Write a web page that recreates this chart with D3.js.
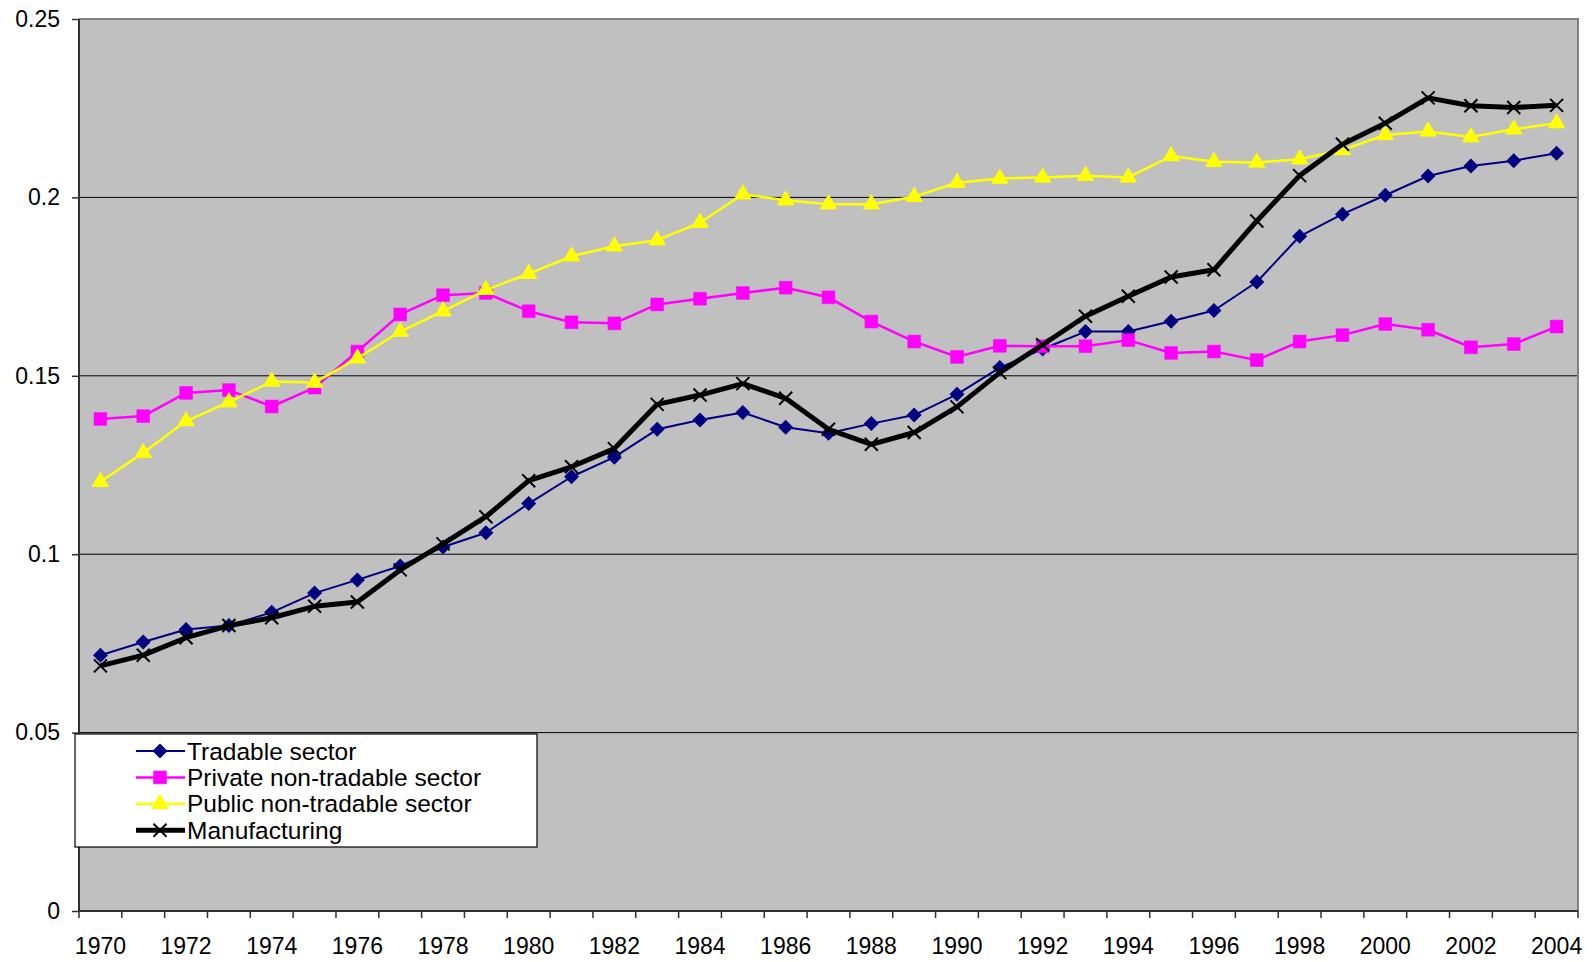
<!DOCTYPE html>
<html>
<head>
<meta charset="utf-8">
<script src="https://cdn.jsdelivr.net/npm/d3@7"></script>
<style>
  body { margin: 0; background: #fff; }
  text { font-family: "Liberation Sans", Arial, sans-serif; }
</style>
</head>
<body>
<div id="chart"></div>
<script>
// years on the category axis
var years = d3.range(1970, 2005).map(String);

// series values
var tradable = [0.0717, 0.0754, 0.0789, 0.0800, 0.0837, 0.0891, 0.0928, 0.0967, 0.1020, 0.1060,
  0.1142, 0.1217, 0.1272, 0.1350, 0.1376, 0.1397, 0.1356, 0.1339, 0.1366, 0.1390,
  0.1448, 0.1523, 0.1575, 0.1624, 0.1624, 0.1653, 0.1683, 0.1763, 0.1891, 0.1953,
  0.2006, 0.2060, 0.2088, 0.2103, 0.2124];
var privateNT = [0.1379, 0.1387, 0.1452, 0.1460, 0.1414, 0.1467, 0.1568, 0.1672, 0.1726, 0.1732,
  0.1681, 0.1650, 0.1647, 0.1700, 0.1716, 0.1732, 0.1747, 0.1720, 0.1652, 0.1596,
  0.1553, 0.1584, 0.1583, 0.1583, 0.1600, 0.1564, 0.1568, 0.1544, 0.1596, 0.1614,
  0.1645, 0.1629, 0.1580, 0.1589, 0.1638];
var publicNT = [0.1203, 0.1284, 0.1373, 0.1426, 0.1484, 0.1481, 0.1549, 0.1624, 0.1681, 0.1741,
  0.1786, 0.1835, 0.1863, 0.1880, 0.1929, 0.2009, 0.1992, 0.1981, 0.1981, 0.2002,
  0.2041, 0.2053, 0.2056, 0.2061, 0.2056, 0.2116, 0.2100, 0.2098, 0.2107, 0.2133,
  0.2175, 0.2185, 0.2169, 0.2191, 0.2208];
var manufacturing = [0.0687, 0.0717, 0.0766, 0.0800, 0.0822, 0.0854, 0.0866, 0.0956, 0.1029, 0.1105,
  0.1206, 0.1245, 0.1296, 0.1420, 0.1446, 0.1478, 0.1437, 0.1350, 0.1308, 0.1341,
  0.1413, 0.1509, 0.1587, 0.1667, 0.1723, 0.1777, 0.1797, 0.1934, 0.2061, 0.2149,
  0.2208, 0.2279, 0.2257, 0.2252, 0.2258];

var yTicks = [0, 0.05, 0.1, 0.15, 0.2, 0.25];
var seriesNames = ["Tradable sector", "Private non-tradable sector", "Public non-tradable sector", "Manufacturing"];

// series styling
var series = [
  { name: seriesNames[0], values: tradable, color: "#000080", width: 2, marker: "diamond" },
  { name: seriesNames[1], values: privateNT, color: "#FF00FF", width: 2.5, marker: "square" },
  { name: seriesNames[2], values: publicNT, color: "#FFFF00", width: 2.5, marker: "triangle" },
  { name: seriesNames[3], values: manufacturing, color: "#000000", width: 5, marker: "x" }
];

var width = 1592, height = 962;
var margin = { top: 19, right: 14, bottom: 51, left: 79 };
var innerW = width - margin.left - margin.right;
var innerH = height - margin.top - margin.bottom;
var axisFont = 23, legendFont = 24.5;

var svg = d3.select("#chart").append("svg")
  .attr("width", width)
  .attr("height", height);

var g = svg.append("g")
  .attr("transform", "translate(" + margin.left + "," + margin.top + ")");

var x = d3.scaleBand().domain(years).range([0, innerW]).padding(0);
var y = d3.scaleLinear().domain([0, 0.25]).range([innerH, 0]);
var cx = function(i) { return x(years[i]) + x.bandwidth() / 2; };

// plot background
g.append("rect")
  .attr("width", innerW)
  .attr("height", innerH)
  .attr("fill", "#C0C0C0");

// gridlines
g.selectAll(".grid")
  .data(yTicks.filter(function(d) { return d > 0 && d < 0.25; }))
  .enter().append("line")
  .attr("x1", 0).attr("x2", innerW)
  .attr("y1", function(d) { return y(d); })
  .attr("y2", function(d) { return y(d); })
  .attr("stroke", "#000")
  .attr("stroke-width", 1);

// top and right border
g.append("path")
  .attr("d", "M0," + y(0.25) + "H" + innerW + "V" + innerH)
  .attr("fill", "none")
  .attr("stroke", "#808080")
  .attr("stroke-width", 2);

// y axis
var yAxis = g.append("g")
  .call(d3.axisLeft(y).tickValues(yTicks).tickSize(7).tickPadding(12)
    .tickFormat(function(d) { return String(+d.toFixed(2)); }));
yAxis.select(".domain").attr("stroke", "#303030").attr("stroke-width", 2).attr("d", "M0,0V" + innerH);
yAxis.selectAll(".tick line").attr("stroke", "#303030").attr("stroke-width", 1.5);
yAxis.selectAll("text").attr("font-size", axisFont).attr("fill", "#000")
  .style("font-family", "'Liberation Sans', Arial, sans-serif");

// x axis: labels every other year, ticks between categories
var xAxis = g.append("g")
  .attr("transform", "translate(0," + innerH + ")")
  .call(d3.axisBottom(x).tickValues(years.filter(function(d, i) { return i % 2 === 0; }))
    .tickSize(0).tickPadding(26.5));
xAxis.select(".domain").attr("stroke", "#303030").attr("stroke-width", 2).attr("d", "M0,0H" + innerW);
xAxis.selectAll("text").attr("font-size", axisFont).attr("fill", "#000")
  .style("font-family", "'Liberation Sans', Arial, sans-serif");
xAxis.selectAll(".boundary")
  .data(years.concat(["end"]))
  .enter().append("line")
  .attr("x1", function(d, i) { return i < years.length ? x(d) : innerW; })
  .attr("x2", function(d, i) { return i < years.length ? x(d) : innerW; })
  .attr("y1", 0).attr("y2", 7)
  .attr("stroke", "#303030")
  .attr("stroke-width", 1.5);

// marker drawing
function drawMarker(sel, type, color) {
  if (type === "diamond") {
    sel.append("path")
      .attr("d", d3.symbol().type(d3.symbolSquare).size(92)())
      .attr("transform", "rotate(45)")
      .attr("fill", color).attr("stroke", color).attr("stroke-width", 1);
  } else if (type === "square") {
    sel.append("path")
      .attr("d", d3.symbol().type(d3.symbolSquare).size(165)())
      .attr("fill", color).attr("stroke", color).attr("stroke-width", 0.5);
  } else if (type === "triangle") {
    sel.append("path")
      .attr("d", d3.symbol().type(d3.symbolTriangle).size(115)())
      .attr("fill", color).attr("stroke", color).attr("stroke-width", 1);
  } else {
    sel.append("path")
      .attr("d", "M-6.5,-6.5L6.5,6.5M-6.5,6.5L6.5,-6.5")
      .attr("stroke", color).attr("stroke-width", 2).attr("fill", "none");
  }
}

var line = d3.line()
  .x(function(d, i) { return cx(i); })
  .y(function(d) { return y(d); });

series.forEach(function(s) {
  g.append("path")
    .datum(s.values)
    .attr("d", line)
    .attr("fill", "none")
    .attr("stroke", s.color)
    .attr("stroke-width", s.width)
    .attr("stroke-linejoin", "round");

  g.selectAll(".m-" + s.marker)
    .data(s.values)
    .enter().append("g")
    .attr("class", "m-" + s.marker)
    .attr("transform", function(d, i) { return "translate(" + cx(i) + "," + y(d) + ")"; })
    .each(function() { drawMarker(d3.select(this), s.marker, s.color); });
});

// legend
var legend = svg.append("g").attr("transform", "translate(75,734)");
legend.append("rect")
  .attr("width", 462).attr("height", 113)
  .attr("fill", "#fff").attr("stroke", "#000").attr("stroke-width", 1.2);

var item = legend.selectAll(".legend")
  .data(series)
  .enter().append("g")
  .attr("class", "legend")
  .attr("transform", function(d, i) { return "translate(0," + (17 + i * 26.4) + ")"; });

item.append("line")
  .attr("x1", 61).attr("x2", 110)
  .attr("stroke", function(d) { return d.color; })
  .attr("stroke-width", function(d) { return d.width; });

item.append("g")
  .attr("transform", "translate(85,0)")
  .each(function(d) { drawMarker(d3.select(this), d.marker, d.color); });

item.append("text")
  .attr("x", 112)
  .attr("dy", "0.35em")
  .attr("font-size", legendFont)
  .text(function(d) { return d.name; });
</script>
</body>
</html>
